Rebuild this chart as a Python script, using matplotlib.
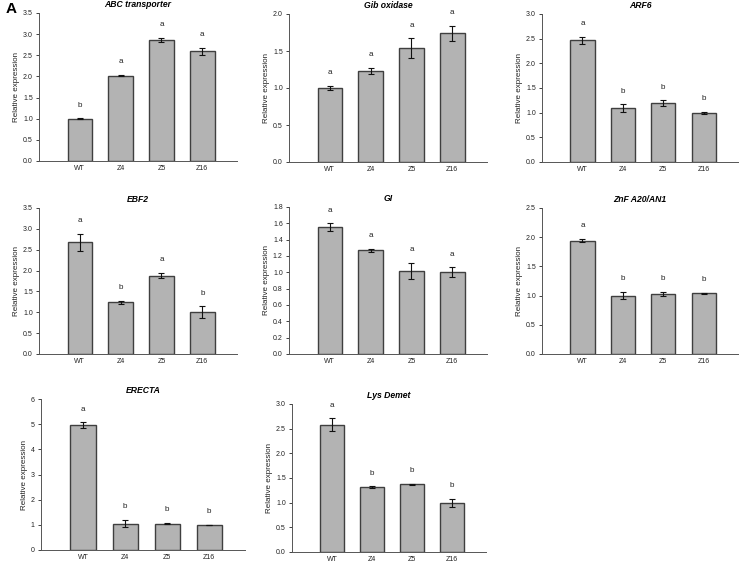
# relative expression bar charts, 8 genes, WT vs lines

import matplotlib.pyplot as plt
import numpy as np

lines = ['WT', 'Z4', 'Z5', 'Z16']

genes = ['ABC transporter', 'Gib oxidase', 'ARF6', 'EBF2', 'GI',
         'ZnF A20/AN1', 'ERECTA', 'Lys Demet']

abc_mean = [1.00, 2.02, 2.87, 2.59]
abc_err = [0.01, 0.01, 0.05, 0.08]
abc_letters = ['b', 'a', 'a', 'a']

gib_mean = [1.00, 1.23, 1.54, 1.74]
gib_err = [0.03, 0.04, 0.13, 0.10]
gib_letters = ['a', 'a', 'a', 'a']

arf6_mean = [2.47, 1.09, 1.19, 1.00]
arf6_err = [0.07, 0.08, 0.06, 0.02]
arf6_letters = ['a', 'b', 'b', 'b']

ebf2_mean = [2.68, 1.24, 1.88, 1.00]
ebf2_err = [0.20, 0.03, 0.07, 0.14]
ebf2_letters = ['a', 'b', 'a', 'b']

gi_mean = [1.55, 1.27, 1.02, 1.00]
gi_err = [0.05, 0.02, 0.10, 0.06]
gi_letters = ['a', 'a', 'a', 'a']

znf_mean = [1.94, 1.00, 1.03, 1.04]
znf_err = [0.03, 0.06, 0.03, 0.01]
znf_letters = ['a', 'b', 'b', 'b']

erecta_mean = [4.95, 1.05, 1.05, 1.00]
erecta_err = [0.12, 0.15, 0.03, 0.01]
erecta_letters = ['a', 'b', 'b', 'b']

lys_mean = [2.58, 1.31, 1.37, 1.00]
lys_err = [0.13, 0.02, 0.01, 0.08]
lys_letters = ['a', 'b', 'b', 'b']

# y axis top and tick step for each panel
y_tops = [3.5, 2.0, 3.0, 3.5, 1.8, 2.5, 6, 3.0]
y_steps = [0.5, 0.5, 0.5, 0.5, 0.2, 0.5, 1, 0.5]

W, H = 751, 564
# axes boxes in pixels: left, top, right, bottom
boxes = [
    (39, 13, 237, 161), (289, 14, 487, 162), (542, 14, 738, 162),
    (39, 208, 237, 354), (289, 207, 487, 354), (542, 208, 738, 354),
    (41, 399, 245, 550), (292, 404, 486, 552),
]

means = [abc_mean, gib_mean, arf6_mean, ebf2_mean, gi_mean, znf_mean, erecta_mean, lys_mean]
errs = [abc_err, gib_err, arf6_err, ebf2_err, gi_err, znf_err, erecta_err, lys_err]
letters = [abc_letters, gib_letters, arf6_letters, ebf2_letters, gi_letters,
           znf_letters, erecta_letters, lys_letters]

plt.rcParams['font.family'] = ['Liberation Sans', 'DejaVu Sans']

fig = plt.figure(figsize=(W / 100, H / 100), dpi=100)

for i, gene in enumerate(genes):
    l, t, r, b = boxes[i]
    ax = fig.add_axes([l / W, 1 - b / H, (r - l) / W, (b - t) / H])
    x = np.arange(len(lines))
    ax.bar(x, means[i], width=0.6, color='#b3b3b3', edgecolor='#3f3f3f', linewidth=1.0)
    ax.errorbar(x, means[i], yerr=errs[i], fmt='none', ecolor='#111111',
                elinewidth=0.8, capsize=2.5, capthick=0.8)
    for xi, m, e, letter in zip(x, means[i], errs[i], letters[i]):
        ax.annotate(letter, (xi, m + e), xytext=(0, 7), textcoords='offset points',
                    ha='center', va='bottom', fontsize=5.8, color='#222222')
    ax.set_xlim(-1, 3.85)
    ax.set_ylim(0, y_tops[i])
    ax.set_yticks(np.arange(0, y_tops[i] + y_steps[i] / 2, y_steps[i]))
    if y_steps[i] < 1:
        ax.yaxis.set_major_formatter(plt.FormatStrFormatter('%.1f'))
    ax.set_xticks(x)
    ax.set_xticklabels(lines)
    ax.tick_params(axis='x', length=0, labelsize=5, pad=3, colors='#222222')
    ax.tick_params(axis='y', length=2.5, width=0.6, labelsize=5, pad=2,
                   colors='#222222', direction='out')
    ax.spines['top'].set_visible(False)
    ax.spines['right'].set_visible(False)
    ax.spines['left'].set_color('#555555')
    ax.spines['bottom'].set_color('#555555')
    ax.spines['left'].set_linewidth(0.7)
    ax.spines['bottom'].set_linewidth(0.7)
    ax.set_ylabel('Relative expression', fontsize=5.8, labelpad=2, color='#222222')
    ax.set_title(gene, fontsize=6.2, fontweight='bold', style='italic', pad=4)

fig.text(6 / W, 1 - 9 / H, 'A', fontsize=11, fontweight='bold', va='center', ha='left')

plt.savefig('out.png', dpi=100)
